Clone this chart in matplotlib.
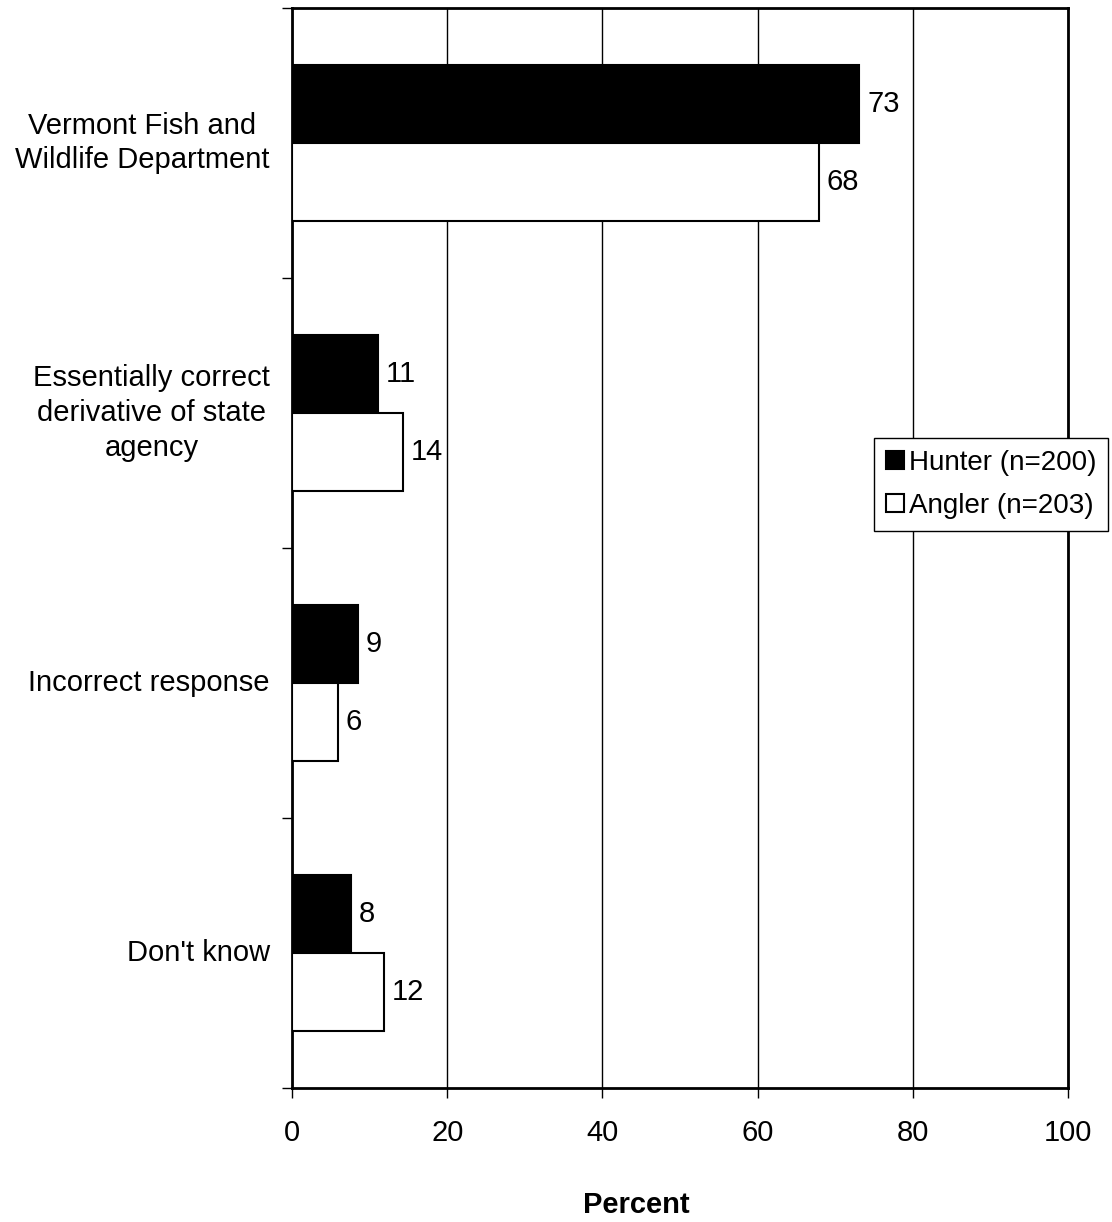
import matplotlib
matplotlib.use("Agg")
import matplotlib.pyplot as plt
import numpy as np

categories = ["Vermont Fish and\nWildlife Department",
              "Essentially correct\nderivative of state\nagency",
              "Incorrect response",
              "Don't know"]
hunter = [73.1, 11.1, 8.5, 7.6]
angler = [67.9, 14.3, 5.9, 11.9]
hunter_labels = ["73", "11", "9", "8"]
angler_labels = ["68", "14", "6", "12"]
xticks = [0, 20, 40, 60, 80, 100]

plt.rcParams['font.family'] = ['Liberation Sans', 'DejaVu Sans']

fig = plt.figure(figsize=(11.12, 12.22), dpi=100)
ax = fig.add_axes([292/1112, 1 - 1088/1222, (1068-292)/1112, (1088-8)/1222])

n = len(categories)
centers = np.arange(n) + 0.5
h = 0.289
ax.barh(centers - h/2, hunter, height=h, color='black', edgecolor='black', linewidth=1.5,
        label='Hunter (n=200)', zorder=3)
ax.barh(centers + h/2, angler, height=h, color='white', edgecolor='black', linewidth=1.5,
        label='Angler (n=203)', zorder=3)

for c, v, l in zip(centers, hunter, hunter_labels):
    ax.text(v + 1.0, c - h/2, l, va='center', ha='left', fontsize=21)
for c, v, l in zip(centers, angler, angler_labels):
    ax.text(v + 1.0, c + h/2, l, va='center', ha='left', fontsize=21)

ax.set_xlim(0, 100)
ax.set_ylim(n, 0)
ax.set_xticks(xticks)
ax.set_xticklabels([str(x) for x in xticks], fontsize=21)
ax.xaxis.grid(True, color='black', linewidth=1)
ax.set_axisbelow(True)

ax.set_yticks(np.arange(n + 1))
ax.set_yticklabels([])
ax.set_yticks(centers, minor=True)
ax.set_yticklabels(categories, minor=True, fontsize=21, multialignment='center',
                   linespacing=1.3)
for t in ax.get_yticklabels(minor=True):
    t.set_verticalalignment('center')
ax.tick_params(axis='y', which='minor', length=0, pad=16)
ax.tick_params(axis='y', which='major', length=7, width=1, direction='out')
ax.tick_params(axis='x', which='major', length=7, width=1, direction='out', pad=15)

for s in ax.spines.values():
    s.set_linewidth(2)

fig.text(636/1112, 1 - 1205/1222, 'Percent', ha='center', va='center',
         fontsize=21, fontweight='bold')

leg = ax.legend(loc='upper left', bbox_to_anchor=(874/1112, 1 - 438/1222),
                bbox_transform=fig.transFigure, fontsize=20, frameon=True,
                fancybox=False, edgecolor='black', framealpha=1,
                handlelength=0.65, handleheight=0.65, handletextpad=0.2,
                borderpad=0.42, labelspacing=0.62, borderaxespad=0)
leg.get_frame().set_linewidth(1)

fig.savefig('out.png', dpi=100, facecolor='white')
